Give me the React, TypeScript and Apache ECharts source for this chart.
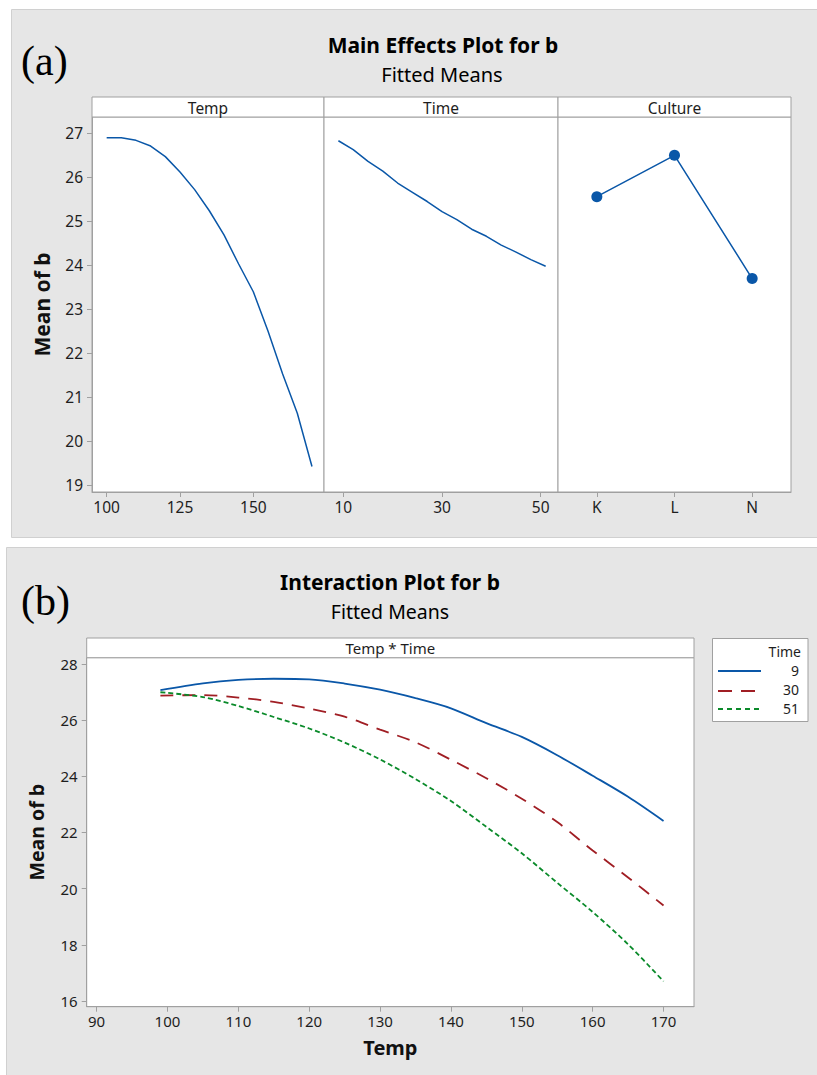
import React, { useEffect, useRef } from "react";
import * as echarts from "echarts";

// ---- Data ----
const tempX = [100, 105, 110, 115, 120, 125, 130, 135, 140, 145, 150, 155, 160, 165, 170];
const tempMean = [26.89, 26.89, 26.83, 26.7, 26.46, 26.11, 25.71, 25.23, 24.68, 24.02, 23.39, 22.5, 21.52, 20.63, 19.42];

const timeX = [9, 12, 15, 18, 21, 24, 27, 30, 33, 36, 39, 42, 45, 48, 51];
const timeMean = [26.82, 26.62, 26.35, 26.13, 25.86, 25.65, 25.44, 25.21, 25.03, 24.81, 24.65, 24.45, 24.29, 24.12, 23.97];

const cultureCats = ["K", "L", "N"];
const cultureMean = [25.55, 26.49, 23.69];

const interTemp = [99, 105, 110, 115, 120, 125, 130, 135, 140, 145, 150, 155, 160, 165, 170];
const interTime9 = [27.07, 27.31, 27.43, 27.47, 27.45, 27.3, 27.08, 26.78, 26.42, 25.89, 25.4, 24.75, 24.02, 23.27, 22.41];
const interTime30 = [26.87, 26.89, 26.8, 26.65, 26.41, 26.12, 25.66, 25.21, 24.59, 23.93, 23.2, 22.37, 21.36, 20.4, 19.4];
const interTime51 = [26.99, 26.82, 26.5, 26.11, 25.7, 25.2, 24.6, 23.9, 23.12, 22.2, 21.26, 20.21, 19.17, 18.02, 16.7];
const interLegend = ["9", "30", "51"];

const topYTicks = [19, 20, 21, 22, 23, 24, 25, 26, 27];
const tempTicks = [100, 125, 150];
const timeTicks = [10, 30, 50];
const botYTicks = [16, 18, 20, 22, 24, 26, 28];
const botXTicks = [90, 100, 110, 120, 130, 140, 150, 160, 170];

const FONT = "'Noto Sans', 'Open Sans', sans-serif";
const SERIF = "'Liberation Serif', 'DejaVu Serif', serif";
const FRAME = "#a0a0a0";
const LABEL = "#1e1e1e";
const BLUE = "#0a57a8";
const RED = "#a01e24";
const GREEN = "#0a8a2a";

const pairs = (xs: number[], ys: number[]) => xs.map((x, i) => [x, ys[i]]);

export default function App() {
  const ref = useRef<HTMLDivElement>(null);

  useEffect(() => {
    if (!ref.current) return;
    const chart = echarts.init(ref.current, undefined, { renderer: "svg" });

    const gridBase = {
      show: true,
      backgroundColor: "#ffffff",
      borderColor: FRAME,
      borderWidth: 1,
      containLabel: false,
      outerBoundsMode: "none",
    };

    const axisLine = { show: true, lineStyle: { color: FRAME, width: 1 } };
    const topLabel = { color: LABEL, fontSize: 15.5, fontFamily: FONT };
    const botLabel = { color: LABEL, fontSize: 15, fontFamily: FONT };

    const valueX = (gridIndex: number, min: number, max: number, ticks: number[], lab: any, extra: any = {}) => ({
      type: "value",
      gridIndex,
      min,
      max,
      axisLine,
      axisTick: { show: true, length: 5, lineStyle: { color: FRAME }, customValues: ticks },
      axisLabel: { ...lab, margin: 7, customValues: ticks },
      splitLine: { show: false },
      ...extra,
    });

    const option: any = {
      animation: false,
      backgroundColor: "#ffffff",
      grid: [
        { ...gridBase, left: 92, top: 117, width: 232, height: 375 },
        { ...gridBase, left: 324, top: 117, width: 234, height: 375 },
        { ...gridBase, left: 558, top: 117, width: 233, height: 375 },
        { ...gridBase, left: 86.7, top: 657.7, width: 607.3, height: 349 },
      ],
      xAxis: [
        valueX(0, 95, 174.1, tempTicks, topLabel),
        valueX(1, 6.08, 53.5, timeTicks, topLabel),
        {
          type: "category",
          gridIndex: 2,
          data: cultureCats,
          boundaryGap: true,
          axisLine,
          axisTick: { show: true, length: 5, alignWithLabel: true, lineStyle: { color: FRAME } },
          axisLabel: { ...topLabel, margin: 7 },
          splitLine: { show: false },
        },
        valueX(3, 88.6, 174.3, botXTicks, botLabel, {
          name: "Temp",
          nameLocation: "middle",
          nameGap: 31,
          nameTextStyle: { fontSize: 20, fontWeight: "bold", color: "#111", fontFamily: FONT },
        }),
      ],
      yAxis: [
        {
          type: "value",
          gridIndex: 0,
          min: 18.84,
          max: 27.36,
          axisLine,
          axisTick: { show: true, length: 5, lineStyle: { color: FRAME }, customValues: topYTicks },
          axisLabel: { ...topLabel, margin: 9, customValues: topYTicks },
          splitLine: { show: false },
          name: "Mean of b",
          nameLocation: "middle",
          nameGap: 40,
          nameTextStyle: { fontSize: 21, fontWeight: "bold", color: "#111", fontFamily: FONT },
        },
        { type: "value", gridIndex: 1, min: 18.84, max: 27.36, show: false, splitLine: { show: false } },
        { type: "value", gridIndex: 2, min: 18.84, max: 27.36, show: false, splitLine: { show: false } },
        {
          type: "value",
          gridIndex: 3,
          min: 15.8,
          max: 28.22,
          axisLine,
          axisTick: { show: true, length: 5, lineStyle: { color: FRAME }, customValues: botYTicks },
          axisLabel: { ...botLabel, margin: 9, customValues: botYTicks },
          splitLine: { show: false },
          name: "Mean of b",
          nameLocation: "middle",
          nameGap: 40,
          nameTextStyle: { fontSize: 19.5, fontWeight: "bold", color: "#111", fontFamily: FONT },
        },
      ],
      series: [
        {
          type: "line",
          xAxisIndex: 0,
          yAxisIndex: 0,
          data: pairs(tempX, tempMean),
          showSymbol: false,
          lineStyle: { color: BLUE, width: 1.5 },
        },
        {
          type: "line",
          xAxisIndex: 1,
          yAxisIndex: 1,
          data: pairs(timeX, timeMean),
          showSymbol: false,
          lineStyle: { color: BLUE, width: 1.5 },
        },
        {
          type: "line",
          xAxisIndex: 2,
          yAxisIndex: 2,
          data: cultureMean,
          symbol: "circle",
          symbolSize: 11,
          itemStyle: { color: BLUE },
          lineStyle: { color: BLUE, width: 1.5 },
        },
        {
          name: interLegend[0],
          type: "line",
          xAxisIndex: 3,
          yAxisIndex: 3,
          data: pairs(interTemp, interTime9),
          showSymbol: false,
          smooth: 0.3,
          lineStyle: { color: BLUE, width: 1.8 },
        },
        {
          name: interLegend[1],
          type: "line",
          xAxisIndex: 3,
          yAxisIndex: 3,
          data: pairs(interTemp, interTime30),
          showSymbol: false,
          smooth: 0.3,
          lineStyle: { color: RED, width: 1.8, type: [13, 9] },
        },
        {
          name: interLegend[2],
          type: "line",
          xAxisIndex: 3,
          yAxisIndex: 3,
          data: pairs(interTemp, interTime51),
          showSymbol: false,
          smooth: 0.3,
          lineStyle: { color: GREEN, width: 1.8, type: [5, 3] },
        },
      ],
      graphic: [
        // panel backgrounds
        { type: "rect", z: -100, shape: { x: 11.5, y: 9.5, width: 820, height: 528 }, style: { fill: "#e6e6e6", stroke: "#d0d0d0", lineWidth: 1 } },
        { type: "rect", z: -100, shape: { x: 6.5, y: 547.5, width: 825, height: 540 }, style: { fill: "#e6e6e6", stroke: "#d0d0d0", lineWidth: 1 } },
        // titles
        { type: "text", z: 100, x: 443, y: 44.5, style: { text: "Main Effects Plot for b", fontSize: 21, fontWeight: "bold", fill: "#000", fontFamily: FONT, align: "center", verticalAlign: "middle" } },
        { type: "text", z: 100, x: 442, y: 74.5, style: { text: "Fitted Means", fontSize: 20, fill: "#000", fontFamily: FONT, align: "center", verticalAlign: "middle" } },
        { type: "text", z: 100, x: 21, y: 61, style: { text: "(a)", fontSize: 42, fill: "#000", fontFamily: SERIF, align: "left", verticalAlign: "middle" } },
        { type: "text", z: 100, x: 390, y: 582, style: { text: "Interaction Plot for b", fontSize: 21, fontWeight: "bold", fill: "#000", fontFamily: FONT, align: "center", verticalAlign: "middle" } },
        { type: "text", z: 100, x: 390, y: 611, style: { text: "Fitted Means", fontSize: 19.5, fill: "#000", fontFamily: FONT, align: "center", verticalAlign: "middle" } },
        { type: "text", z: 100, x: 21, y: 601, style: { text: "(b)", fontSize: 42, fill: "#000", fontFamily: SERIF, align: "left", verticalAlign: "middle" } },
        // header strips (top)
        { type: "rect", z: 50, shape: { x: 92, y: 97, width: 232, height: 20 }, style: { fill: "#fff", stroke: FRAME, lineWidth: 1 } },
        { type: "rect", z: 50, shape: { x: 324, y: 97, width: 234, height: 20 }, style: { fill: "#fff", stroke: FRAME, lineWidth: 1 } },
        { type: "rect", z: 50, shape: { x: 558, y: 97, width: 233, height: 20 }, style: { fill: "#fff", stroke: FRAME, lineWidth: 1 } },
        { type: "text", z: 100, x: 208, y: 107.5, style: { text: "Temp", fontSize: 15.5, fill: LABEL, fontFamily: FONT, align: "center", verticalAlign: "middle" } },
        { type: "text", z: 100, x: 441, y: 107.5, style: { text: "Time", fontSize: 15.5, fill: LABEL, fontFamily: FONT, align: "center", verticalAlign: "middle" } },
        { type: "text", z: 100, x: 674.5, y: 107.5, style: { text: "Culture", fontSize: 15.5, fill: LABEL, fontFamily: FONT, align: "center", verticalAlign: "middle" } },
        // header strip (bottom)
        { type: "rect", z: 50, shape: { x: 86.7, y: 638, width: 607.3, height: 19.7 }, style: { fill: "#fff", stroke: FRAME, lineWidth: 1 } },
        { type: "text", z: 100, x: 390.3, y: 648, style: { text: "Temp * Time", fontSize: 15, fill: LABEL, fontFamily: FONT, align: "center", verticalAlign: "middle" } },
        // legend
        { type: "rect", z: 50, shape: { x: 712.5, y: 638.5, width: 95.5, height: 83 }, style: { fill: "#fff", stroke: FRAME, lineWidth: 1 } },
        { type: "text", z: 100, x: 801, y: 651, style: { text: "Time", fontSize: 14, fill: LABEL, fontFamily: FONT, align: "right", verticalAlign: "middle" } },
        { type: "line", z: 100, shape: { x1: 718, y1: 671, x2: 761, y2: 671 }, style: { stroke: BLUE, lineWidth: 1.8 } },
        { type: "text", z: 100, x: 799, y: 670, style: { text: interLegend[0], fontSize: 14, fill: LABEL, fontFamily: FONT, align: "right", verticalAlign: "middle" } },
        { type: "line", z: 100, shape: { x1: 718, y1: 691, x2: 757, y2: 691 }, style: { stroke: RED, lineWidth: 1.8, lineDash: [14, 9] } },
        { type: "text", z: 100, x: 799, y: 689.5, style: { text: interLegend[1], fontSize: 14, fill: LABEL, fontFamily: FONT, align: "right", verticalAlign: "middle" } },
        { type: "line", z: 100, shape: { x1: 718, y1: 709, x2: 760, y2: 709 }, style: { stroke: GREEN, lineWidth: 1.8, lineDash: [5, 4] } },
        { type: "text", z: 100, x: 799, y: 708.5, style: { text: interLegend[2], fontSize: 14, fill: LABEL, fontFamily: FONT, align: "right", verticalAlign: "middle" } },
      ],
    };

    chart.setOption(option);
    return () => chart.dispose();
  }, []);

  return (
    <div
      ref={ref}
      style={{ position: "fixed", left: 0, top: 0, width: 817, height: 1075, background: "#fff" }}
    />
  );
}
